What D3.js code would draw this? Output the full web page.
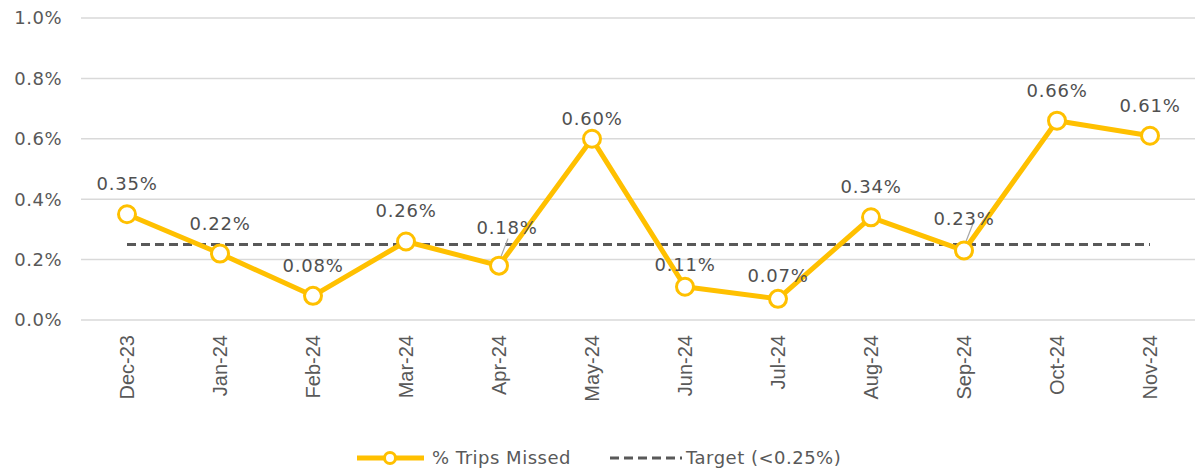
<!DOCTYPE html>
<html>
<head>
<meta charset="utf-8">
<script src="https://cdn.jsdelivr.net/npm/d3@7"></script>
<style>
  body { margin: 0; background: #fff; }
  svg { display: block; font-family: "DejaVu Sans", sans-serif; }
</style>
</head>
<body>
<svg id="chart" width="1195" height="474"></svg>
<script>
// data
const months = ["Dec-23", "Jan-24", "Feb-24", "Mar-24", "Apr-24", "May-24",
                "Jun-24", "Jul-24", "Aug-24", "Sep-24", "Oct-24", "Nov-24"];
const tripsMissed = [0.35, 0.22, 0.08, 0.26, 0.18, 0.60, 0.11, 0.07, 0.34, 0.23, 0.66, 0.61];
const target = 0.25;
const yTicks = [0, 0.2, 0.4, 0.6, 0.8, 1.0];
// label nudges (px) for crowded points
const labelShift = [[0, 0], [0, 0], [0, 0], [0, 0], [8, -8], [0, 10],
                    [0, 8], [0, 7], [0, 0], [0, -2], [0, 0], [0, 0]];

const grey = "#595959";
const gold = "#FFC000";

let svg = d3.select("#chart");

let x = d3.scalePoint()
    .domain(months)
    .range([127, 1150]);

let y = d3.scaleLinear()
    .domain([0, 1])
    .range([320, 18]);

// gridlines
svg.selectAll("line.grid")
    .data(yTicks)
    .enter()
    .append("line")
    .classed("grid", true)
    .attr("x1", 81)
    .attr("x2", 1195)
    .attr("y1", d => y(d))
    .attr("y2", d => y(d))
    .attr("stroke", "#d9d9d9")
    .attr("stroke-width", 1.5);

// y axis labels
svg.selectAll("text.ytick")
    .data(yTicks)
    .enter()
    .append("text")
    .classed("ytick", true)
    .attr("x", 62)
    .attr("y", d => y(d))
    .attr("dy", "0.35em")
    .attr("text-anchor", "end")
    .attr("fill", grey)
    .attr("font-size", 18)
    .attr("letter-spacing", 0.5)
    .text(d => d.toFixed(1) + "%");

// x axis labels (rotated)
svg.selectAll("text.xtick")
    .data(months)
    .enter()
    .append("text")
    .classed("xtick", true)
    .attr("transform", d => `translate(${x(d) + 7},335) rotate(-90)`)
    .attr("text-anchor", "end")
    .attr("fill", grey)
    .attr("font-family", "'Liberation Sans', Arial, sans-serif")
    .attr("font-size", 20)
    .text(d => d);

// target line
svg.append("line")
    .attr("x1", x(months[0]))
    .attr("x2", x(months[months.length - 1]))
    .attr("y1", y(target))
    .attr("y2", y(target))
    .attr("stroke", grey)
    .attr("stroke-width", 3)
    .attr("stroke-dasharray", "9,5");

// leader lines for shifted labels
[4, 9].forEach(i => {
    svg.append("line")
        .attr("x1", x(months[i]) + 9)
        .attr("y1", y(tripsMissed[i]) - 27)
        .attr("x2", x(months[i]))
        .attr("y2", y(tripsMissed[i]) - 4)
        .attr("stroke", "#a6a6a6")
        .attr("stroke-width", 1.2);
});

// series line
let line = d3.line()
    .x((d, i) => x(months[i]))
    .y(d => y(d));

svg.append("path")
    .datum(tripsMissed)
    .attr("d", line)
    .attr("fill", "none")
    .attr("stroke", gold)
    .attr("stroke-width", 5)
    .attr("stroke-linejoin", "round");

svg.selectAll("circle.pt")
    .data(tripsMissed)
    .enter()
    .append("circle")
    .classed("pt", true)
    .attr("cx", (d, i) => x(months[i]))
    .attr("cy", d => y(d))
    .attr("r", 8.5)
    .attr("fill", "#fff")
    .attr("stroke", gold)
    .attr("stroke-width", 3);

// data labels
svg.selectAll("text.val")
    .data(tripsMissed)
    .enter()
    .append("text")
    .classed("val", true)
    .attr("x", (d, i) => x(months[i]) + labelShift[i][0])
    .attr("y", (d, i) => y(d) - 24 + labelShift[i][1])
    .attr("text-anchor", "middle")
    .attr("fill", "#505050")
    .attr("font-size", 18)
    .attr("letter-spacing", 0.8)
    .text(d => d.toFixed(2) + "%");

// legend
let lg = svg.append("g");
lg.append("line")
    .attr("x1", 357).attr("x2", 424)
    .attr("y1", 458).attr("y2", 458)
    .attr("stroke", gold).attr("stroke-width", 5);
lg.append("circle")
    .attr("cx", 390).attr("cy", 458).attr("r", 5.5)
    .attr("fill", "#fff").attr("stroke", gold).attr("stroke-width", 3);
lg.append("text")
    .attr("x", 432).attr("y", 458).attr("dy", "0.35em")
    .attr("fill", grey).attr("font-size", 18).attr("letter-spacing", 0.5)
    .text("% Trips Missed");
lg.append("line")
    .attr("x1", 610).attr("x2", 682)
    .attr("y1", 458).attr("y2", 458)
    .attr("stroke", grey).attr("stroke-width", 3)
    .attr("stroke-dasharray", "9,5");
lg.append("text")
    .attr("x", 686).attr("y", 458).attr("dy", "0.35em")
    .attr("fill", grey).attr("font-size", 18).attr("letter-spacing", 0.5)
    .text("Target (<0.25%)");
</script>
</body>
</html>
